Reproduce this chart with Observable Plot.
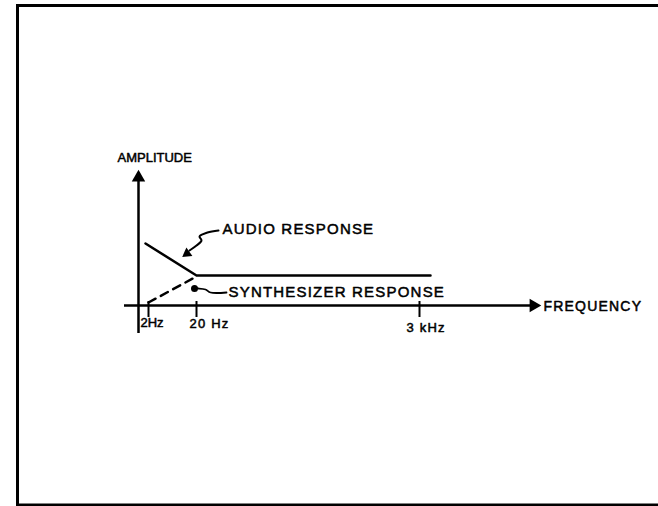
<!DOCTYPE html>
<html>
<head>
<meta charset="utf-8">
<script src="https://cdn.jsdelivr.net/npm/d3@7"></script>
<script src="https://cdn.jsdelivr.net/npm/@observablehq/plot@0.6"></script>
<style>
  html, body { margin: 0; padding: 0; background: #fff; }
  #chart svg text { letter-spacing: 1.2px; }
</style>
</head>
<body>
<div id="chart"></div>
<script>
// Schematic units: origin of the axes at (0,0); 1 unit ≈ one grid step of the sketch
const tickLabels = ["2Hz", "20 Hz", "3 kHz"];
const tickPos = [1.0, 5.8, 28.1];
const labelX = [0.2, 5.1, 26.8];
const labelY = [-1.7, -1.8, -2.2];

const audioX = [0.7, 5.8, 29.2];
const audioY = [6.2, 3.0, 3.0];

const synthX = [1.0, 5.8];
const synthY = [0.3, 2.9];

const audioLeaderX = [8.0, 6.9, 6.1, 6.3, 5.8, 5.1];
const audioLeaderY = [7.5, 7.3, 6.9, 6.5, 6.0, 5.5];
const synthLeaderX = [5.6, 6.0, 6.7, 7.2, 8.8];
const synthLeaderY = [1.7, 1.7, 1.6, 1.3, 1.3];

const annotations = ["AUDIO RESPONSE", "SYNTHESIZER RESPONSE"];
const annX = [8.4, 9.0];
const annY = [7.6, 1.35];
const xTitle = "FREQUENCY";
const xTitleX = 40.5, xTitleY = -0.1;
const yTitle = "AMPLITUDE";
const yTitleX = -2.1, yTitleY = 14.8;

const xAxisSpan = [-1.4, 39.7];
const yAxisSpan = [-2.8, 12.5];

const zip = (xs, ys) => xs.map((x, i) => ({x, y: ys[i]}));
const audio = zip(audioX, audioY);
const synth = zip(synthX, synthY);
const audioLeader = zip(audioLeaderX, audioLeaderY);
const synthLeader = zip(synthLeaderX, synthLeaderY);
const ticks = tickPos.map((p, i) => ({p, label: tickLabels[i], lx: labelX[i], ly: labelY[i]}));
const anns = annotations.map((t, i) => ({t, x: annX[i], y: annY[i]}));

const font = "Liberation Sans, Arial, sans-serif";
const textStyle = {textAnchor: "start", fill: "#000", stroke: "#000", strokeWidth: 0.5};

const chart = Plot.plot({
  width: 658,
  height: 506,
  margin: 0,
  style: {background: "#fff", fontFamily: font, color: "#000"},
  x: {domain: [-13.8, 52.0], axis: null},
  y: {domain: [-20.1, 30.5], axis: null},
  marks: [
    Plot.frame({stroke: "#000", strokeWidth: 3, insetLeft: 17, insetTop: 5, insetBottom: 1.5, insetRight: -6}),
    // axes
    Plot.ruleY([0], {x1: xAxisSpan[0], x2: xAxisSpan[1], stroke: "#000", strokeWidth: 2.5}),
    Plot.ruleX([0], {y1: yAxisSpan[0], y2: yAxisSpan[1], stroke: "#000", strokeWidth: 2.5}),
    Plot.dot([{x: 0, y: 12.8}], {x: "x", y: "y", symbol: "triangle", r: 5, fill: "#000", stroke: null}),
    Plot.dot([{x: 39.5, y: 0}], {x: "x", y: "y", symbol: "triangle", r: 5, rotate: 90, fill: "#000", stroke: null}),
    // ticks
    Plot.ruleX(ticks, {x: "p", y1: -1.2, y2: 0.4, stroke: "#000", strokeWidth: 2}),
    Plot.text(ticks, {x: "lx", y: "ly", text: "label", fontSize: 13, ...textStyle}),
    // responses
    Plot.line(audio, {x: "x", y: "y", stroke: "#000", strokeWidth: 2.5}),
    Plot.line(synth, {x: "x", y: "y", stroke: "#000", strokeWidth: 2.5, strokeDasharray: "8,6"}),
    // leaders
    Plot.line(audioLeader, {x: "x", y: "y", stroke: "#000", strokeWidth: 2, curve: "catmull-rom"}),
    Plot.dot([{x: 4.85, y: 5.2}], {x: "x", y: "y", symbol: "triangle", r: 3.8, rotate: 234, fill: "#000", stroke: null}),
    Plot.line(synthLeader, {x: "x", y: "y", stroke: "#000", strokeWidth: 1.8, curve: "catmull-rom"}),
    Plot.dot([{x: synthLeaderX[0], y: synthLeaderY[0]}], {x: "x", y: "y", r: 3.5, fill: "#000", stroke: null}),
    // annotations
    Plot.text(anns, {x: "x", y: "y", text: "t", fontSize: 15, ...textStyle}),
    Plot.text([xTitle], {x: xTitleX, y: xTitleY, text: d => d, fontSize: 14, ...textStyle}),
    Plot.text([yTitle], {x: yTitleX, y: yTitleY, text: d => d, fontSize: 13, ...textStyle})
  ]
});
d3.select(chart).selectAll("text").filter(function() { return this.textContent === yTitle || this.textContent === tickLabels[0]; })
  .style("letter-spacing", "0px");
document.getElementById("chart").append(chart);
</script>
</body>
</html>
